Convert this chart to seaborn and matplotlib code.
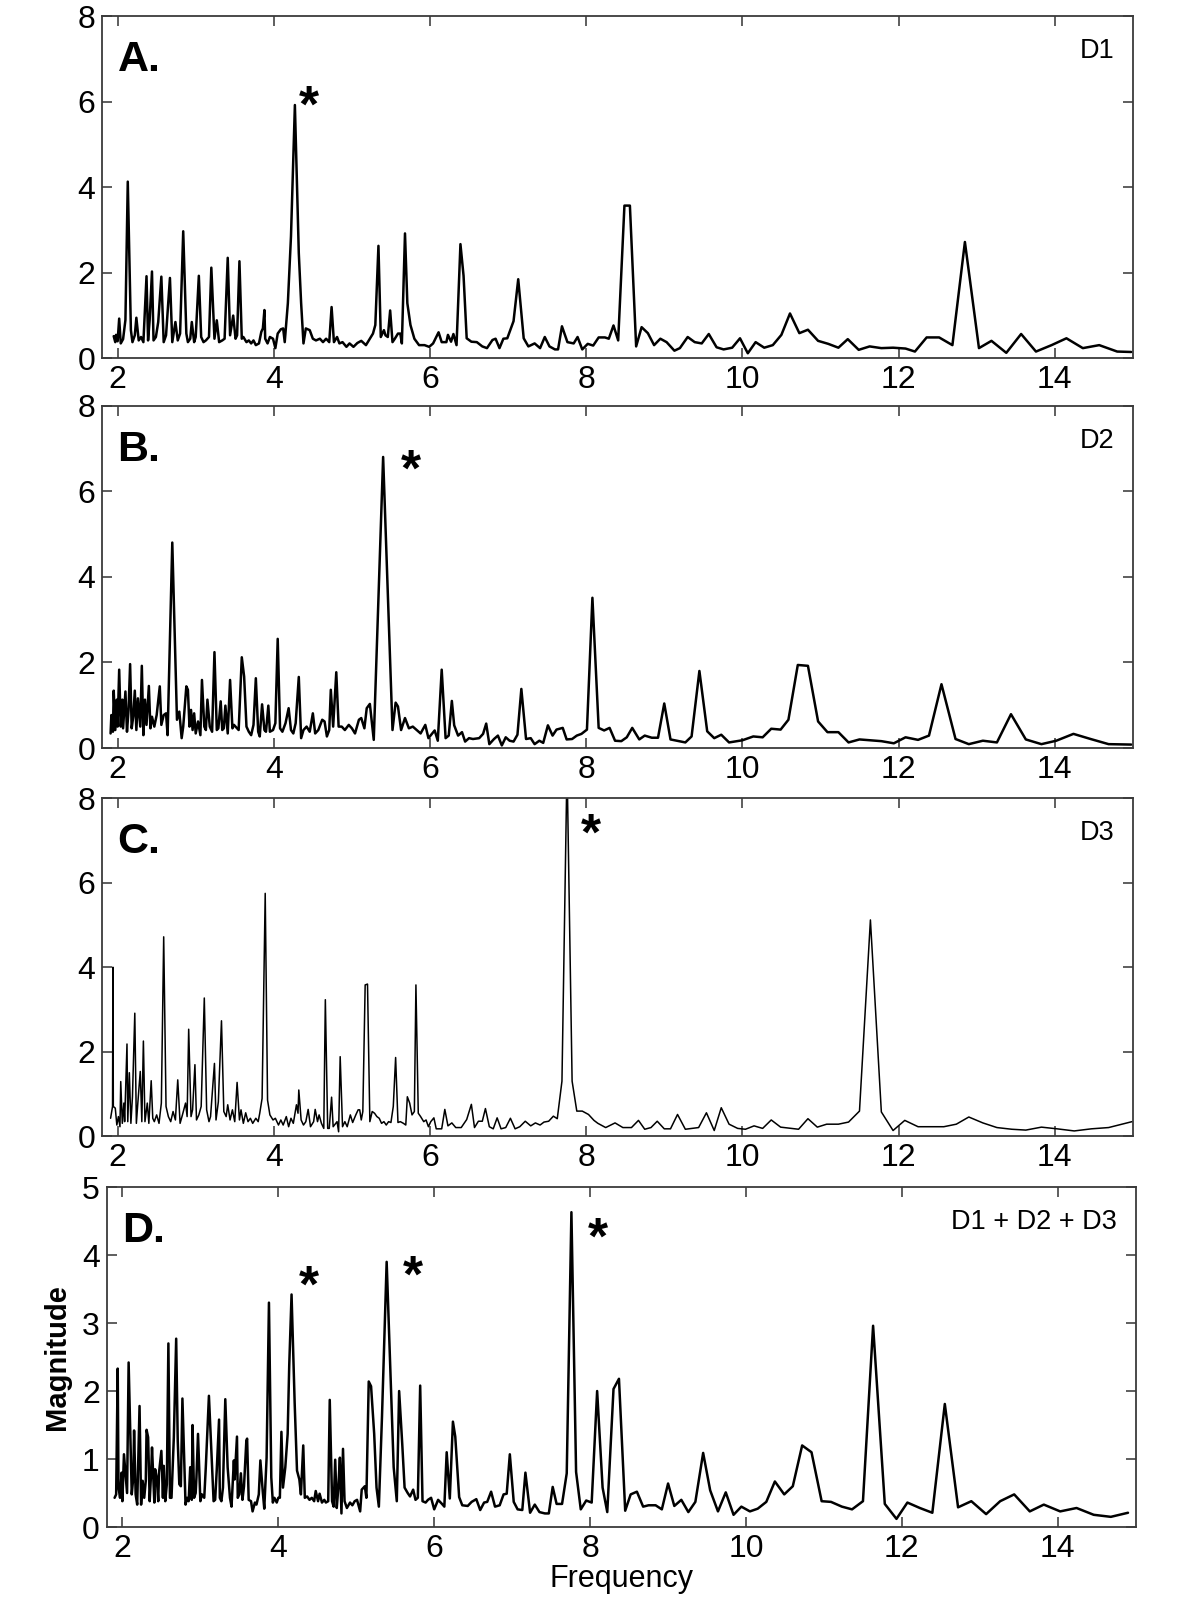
import matplotlib
matplotlib.use("Agg")
import matplotlib.pyplot as plt
import pandas as pd
import seaborn as sns

# ---------------------------------------------------------
# 스펙트럼 값 (그림에서 읽은 값: frequency, magnitude)
# ---------------------------------------------------------
d1_points = [
    (1.95, 0.52), (1.97, 0.38), (1.98, 0.55), (2.00, 0.40), (2.02, 0.93), (2.04, 0.35), (2.07, 0.45),
    (2.10, 0.90), (2.13, 4.13), (2.17, 0.66), (2.19, 0.38), (2.22, 0.54), (2.24, 0.95), (2.27, 0.42),
    (2.30, 0.50), (2.33, 0.38), (2.37, 1.92), (2.39, 0.42), (2.41, 0.89), (2.44, 2.03), (2.46, 0.42),
    (2.49, 0.50), (2.52, 0.85), (2.56, 1.91), (2.59, 0.38), (2.62, 0.54), (2.67, 1.88), (2.70, 0.38),
    (2.72, 0.62), (2.74, 0.85), (2.77, 0.42), (2.80, 0.58), (2.84, 2.97), (2.88, 0.58), (2.90, 0.38),
    (2.93, 0.46), (2.95, 0.85), (2.98, 0.38), (3.00, 0.50), (3.04, 1.93), (3.07, 0.50), (3.10, 0.38),
    (3.13, 0.42), (3.17, 0.50), (3.20, 2.12), (3.24, 0.46), (3.27, 0.89), (3.30, 0.38), (3.34, 0.42),
    (3.37, 0.46), (3.41, 2.35), (3.44, 0.54), (3.48, 1.00), (3.51, 0.46), (3.53, 0.54), (3.56, 2.27),
    (3.59, 0.46), (3.61, 0.50), (3.65, 0.38), (3.68, 0.42), (3.71, 0.35), (3.74, 0.42), (3.77, 0.31),
    (3.81, 0.35), (3.84, 0.62), (3.86, 0.70), (3.88, 1.13), (3.89, 0.46), (3.92, 0.35), (3.95, 0.50),
    (3.99, 0.46), (4.02, 0.24), (4.05, 0.58), (4.09, 0.68), (4.12, 0.70), (4.14, 0.38), (4.18, 1.29),
    (4.22, 2.85), (4.27, 5.92), (4.32, 2.46), (4.35, 1.29), (4.38, 0.35), (4.41, 0.70), (4.46, 0.66),
    (4.50, 0.46), (4.54, 0.42), (4.59, 0.46), (4.63, 0.38), (4.67, 0.46), (4.71, 0.38), (4.74, 1.20),
    (4.77, 0.38), (4.81, 0.50), (4.84, 0.35), (4.88, 0.38), (4.93, 0.27), (4.97, 0.35), (5.02, 0.27),
    (5.07, 0.36), (5.12, 0.41), (5.18, 0.31), (5.23, 0.46), (5.27, 0.58), (5.30, 0.78), (5.34, 2.63),
    (5.37, 0.50), (5.41, 0.66), (5.43, 0.54), (5.46, 0.50), (5.49, 1.12), (5.52, 0.38), (5.55, 0.46),
    (5.59, 0.58), (5.62, 0.58), (5.64, 0.35), (5.68, 2.92), (5.71, 1.29), (5.75, 0.78), (5.80, 0.46),
    (5.86, 0.31), (5.93, 0.31), (5.99, 0.27), (6.04, 0.35), (6.11, 0.61), (6.15, 0.38), (6.21, 0.38),
    (6.23, 0.55), (6.27, 0.39), (6.30, 0.57), (6.34, 0.31), (6.39, 2.67), (6.43, 1.93), (6.47, 0.47),
    (6.53, 0.39), (6.60, 0.38), (6.67, 0.28), (6.73, 0.24), (6.80, 0.43), (6.84, 0.46), (6.89, 0.24),
    (6.94, 0.46), (6.99, 0.47), (7.07, 0.87), (7.13, 1.85), (7.20, 0.47), (7.26, 0.28), (7.34, 0.35),
    (7.41, 0.24), (7.47, 0.50), (7.53, 0.28), (7.60, 0.21), (7.64, 0.21), (7.69, 0.75), (7.76, 0.38),
    (7.84, 0.35), (7.89, 0.50), (7.95, 0.21), (8.02, 0.34), (8.09, 0.30), (8.16, 0.49), (8.24, 0.49),
    (8.29, 0.46), (8.35, 0.77), (8.41, 0.42), (8.49, 3.57), (8.56, 3.57), (8.64, 0.28), (8.71, 0.73),
    (8.79, 0.59), (8.87, 0.31), (8.95, 0.46), (9.03, 0.38), (9.13, 0.18), (9.20, 0.24), (9.30, 0.50),
    (9.39, 0.38), (9.48, 0.35), (9.57, 0.57), (9.67, 0.26), (9.76, 0.21), (9.87, 0.25), (9.97, 0.47),
    (10.07, 0.12), (10.17, 0.38), (10.28, 0.25), (10.39, 0.31), (10.50, 0.55), (10.61, 1.05),
    (10.73, 0.59), (10.84, 0.67), (10.97, 0.41), (11.10, 0.34), (11.23, 0.25), (11.35, 0.45),
    (11.49, 0.20), (11.63, 0.28), (11.78, 0.24), (11.93, 0.25), (12.09, 0.23), (12.21, 0.16),
    (12.36, 0.49), (12.52, 0.49), (12.69, 0.31), (12.85, 2.72), (13.03, 0.24), (13.19, 0.41),
    (13.38, 0.13), (13.57, 0.57), (13.76, 0.16), (13.96, 0.31), (14.15, 0.47), (14.36, 0.24),
    (14.57, 0.31), (14.80, 0.16), (14.98, 0.15),
]

d2_points = [
    (1.91, 0.34), (1.92, 0.77), (1.94, 0.38), (1.95, 1.34), (1.97, 0.42), (1.99, 1.13), (2.00, 0.50),
    (2.02, 1.83), (2.04, 0.50), (2.06, 1.13), (2.07, 0.46), (2.10, 1.32), (2.12, 0.38), (2.14, 0.89),
    (2.16, 1.96), (2.18, 0.46), (2.20, 0.73), (2.22, 1.34), (2.24, 0.42), (2.26, 1.16), (2.29, 0.50),
    (2.31, 1.92), (2.33, 0.30), (2.35, 1.13), (2.37, 0.54), (2.40, 1.45), (2.42, 0.46), (2.44, 0.73),
    (2.47, 0.50), (2.50, 0.77), (2.53, 1.28), (2.54, 1.44), (2.56, 0.54), (2.59, 0.77), (2.62, 0.81),
    (2.64, 0.30), (2.70, 4.80), (2.76, 0.66), (2.79, 0.85), (2.82, 0.23), (2.84, 0.50), (2.88, 1.44),
    (2.90, 1.36), (2.92, 0.50), (2.94, 0.89), (2.96, 0.42), (2.98, 0.81), (3.00, 0.34), (3.03, 0.62),
    (3.06, 0.30), (3.08, 1.59), (3.11, 0.50), (3.13, 0.42), (3.15, 1.13), (3.18, 0.50), (3.21, 0.38),
    (3.24, 2.24), (3.27, 0.42), (3.29, 0.46), (3.32, 1.09), (3.34, 0.42), (3.36, 0.46), (3.38, 0.99),
    (3.41, 0.34), (3.44, 1.59), (3.47, 0.46), (3.49, 0.54), (3.53, 0.46), (3.55, 0.42), (3.59, 2.12),
    (3.62, 1.67), (3.65, 0.50), (3.68, 0.38), (3.71, 0.30), (3.74, 0.54), (3.77, 1.63), (3.80, 0.38),
    (3.82, 0.27), (3.85, 1.02), (3.88, 0.42), (3.90, 0.38), (3.93, 0.99), (3.95, 0.38), (3.99, 0.42),
    (4.02, 0.58), (4.05, 2.55), (4.08, 0.46), (4.11, 0.38), (4.15, 0.58), (4.19, 0.93), (4.22, 0.42),
    (4.25, 0.34), (4.28, 0.58), (4.32, 1.66), (4.35, 0.23), (4.38, 0.42), (4.42, 0.50), (4.46, 0.38),
    (4.50, 0.81), (4.53, 0.34), (4.57, 0.42), (4.62, 0.66), (4.65, 0.62), (4.68, 0.27), (4.71, 0.42),
    (4.73, 1.36), (4.76, 0.50), (4.80, 1.77), (4.83, 0.50), (4.87, 0.50), (4.91, 0.42), (4.96, 0.54),
    (5.00, 0.46), (5.04, 0.34), (5.09, 0.66), (5.12, 0.70), (5.16, 0.46), (5.19, 0.93), (5.23, 1.03),
    (5.28, 0.19), (5.40, 6.80), (5.52, 0.42), (5.56, 1.06), (5.59, 0.97), (5.63, 0.42), (5.68, 0.70),
    (5.73, 0.46), (5.78, 0.50), (5.83, 0.42), (5.88, 0.34), (5.94, 0.54), (5.98, 0.23), (6.06, 0.41),
    (6.10, 0.17), (6.15, 1.83), (6.20, 0.23), (6.24, 0.29), (6.28, 1.10), (6.31, 0.53), (6.36, 0.29),
    (6.41, 0.37), (6.45, 0.15), (6.50, 0.23), (6.55, 0.21), (6.63, 0.23), (6.68, 0.33), (6.72, 0.57),
    (6.76, 0.09), (6.82, 0.21), (6.87, 0.29), (6.92, 0.06), (6.97, 0.25), (7.02, 0.17), (7.07, 0.15),
    (7.12, 0.31), (7.17, 1.38), (7.23, 0.21), (7.29, 0.23), (7.34, 0.09), (7.40, 0.17), (7.45, 0.12),
    (7.51, 0.53), (7.57, 0.29), (7.62, 0.43), (7.70, 0.47), (7.75, 0.20), (7.82, 0.21), (7.88, 0.29),
    (7.94, 0.33), (8.01, 0.43), (8.08, 3.51), (8.16, 0.47), (8.23, 0.41), (8.30, 0.47), (8.37, 0.17),
    (8.45, 0.16), (8.52, 0.25), (8.59, 0.47), (8.68, 0.20), (8.75, 0.29), (8.84, 0.24), (8.92, 0.24),
    (9.00, 1.04), (9.08, 0.20), (9.27, 0.13), (9.35, 0.27), (9.45, 1.80), (9.55, 0.39), (9.64, 0.23),
    (9.73, 0.31), (9.83, 0.13), (10.00, 0.18), (10.14, 0.27), (10.26, 0.25), (10.37, 0.45),
    (10.49, 0.43), (10.59, 0.66), (10.71, 1.94), (10.84, 1.92), (10.97, 0.62), (11.09, 0.37),
    (11.23, 0.37), (11.36, 0.13), (11.50, 0.20), (11.78, 0.16), (11.94, 0.11), (12.09, 0.25),
    (12.25, 0.19), (12.39, 0.29), (12.55, 1.49), (12.73, 0.21), (12.90, 0.09), (13.08, 0.17),
    (13.26, 0.13), (13.44, 0.79), (13.63, 0.20), (13.83, 0.09), (14.02, 0.17), (14.24, 0.33),
    (14.46, 0.21), (14.69, 0.09), (14.98, 0.08),
]

d3_points = [
    (1.91, 0.42), (1.935, 0.70), (1.94, 4.00), (1.945, 0.70), (1.97, 0.66), (1.99, 0.26), (2.01, 0.46),
    (2.03, 0.22), (2.04, 1.29), (2.06, 0.30), (2.08, 0.78), (2.09, 0.34), (2.12, 2.18), (2.13, 0.34),
    (2.15, 1.50), (2.17, 0.30), (2.19, 0.93), (2.22, 2.91), (2.24, 0.30), (2.26, 0.81), (2.29, 1.53),
    (2.31, 0.34), (2.33, 2.25), (2.35, 0.34), (2.38, 0.78), (2.40, 0.30), (2.43, 1.31), (2.45, 0.42),
    (2.47, 0.34), (2.50, 0.50), (2.53, 0.30), (2.56, 0.78), (2.59, 4.72), (2.62, 0.70), (2.65, 0.46),
    (2.68, 0.34), (2.71, 0.58), (2.74, 0.38), (2.77, 1.33), (2.80, 0.30), (2.83, 0.50), (2.87, 0.78),
    (2.89, 0.46), (2.91, 2.53), (2.94, 0.46), (2.96, 0.62), (2.99, 1.69), (3.01, 0.38), (3.04, 0.50),
    (3.07, 0.70), (3.11, 3.27), (3.14, 0.62), (3.17, 0.34), (3.19, 0.46), (3.24, 1.72), (3.26, 0.38),
    (3.29, 0.81), (3.33, 2.73), (3.36, 0.58), (3.39, 0.46), (3.41, 0.74), (3.44, 0.38), (3.47, 0.62),
    (3.50, 0.34), (3.53, 1.27), (3.56, 0.38), (3.58, 0.62), (3.61, 0.30), (3.64, 0.55), (3.67, 0.34),
    (3.70, 0.42), (3.73, 0.30), (3.77, 0.42), (3.80, 0.34), (3.82, 0.54), (3.85, 0.89), (3.89, 5.75),
    (3.92, 0.85), (3.95, 0.50), (3.99, 0.38), (4.02, 0.42), (4.06, 0.26), (4.09, 0.38), (4.12, 0.26),
    (4.16, 0.46), (4.19, 0.22), (4.22, 0.42), (4.25, 0.30), (4.29, 0.74), (4.31, 0.54), (4.32, 1.09),
    (4.35, 0.38), (4.38, 0.26), (4.41, 0.34), (4.44, 0.63), (4.47, 0.22), (4.51, 0.34), (4.53, 0.63),
    (4.56, 0.34), (4.58, 0.50), (4.61, 0.30), (4.64, 0.18), (4.66, 3.23), (4.69, 0.18), (4.71, 0.18),
    (4.74, 0.92), (4.76, 0.22), (4.81, 0.34), (4.83, 0.10), (4.85, 1.88), (4.88, 0.22), (4.91, 0.34),
    (4.94, 0.22), (4.98, 0.50), (5.01, 0.32), (5.05, 0.50), (5.08, 0.62), (5.10, 0.62), (5.12, 0.38),
    (5.14, 0.58), (5.17, 3.58), (5.20, 3.60), (5.23, 0.34), (5.26, 0.58), (5.29, 0.54), (5.32, 0.46),
    (5.35, 0.42), (5.38, 0.30), (5.41, 0.34), (5.44, 0.26), (5.47, 0.34), (5.50, 0.32), (5.53, 0.70),
    (5.56, 1.86), (5.59, 0.32), (5.62, 0.34), (5.66, 0.30), (5.69, 0.26), (5.71, 0.93), (5.74, 0.78),
    (5.77, 0.50), (5.80, 0.58), (5.82, 3.58), (5.85, 0.54), (5.88, 0.46), (5.92, 0.34), (5.95, 0.38),
    (5.98, 0.22), (6.01, 0.34), (6.05, 0.43), (6.08, 0.17), (6.15, 0.17), (6.19, 0.63), (6.23, 0.24),
    (6.28, 0.31), (6.33, 0.20), (6.40, 0.20), (6.47, 0.39), (6.53, 0.75), (6.57, 0.20), (6.62, 0.35),
    (6.67, 0.35), (6.71, 0.65), (6.76, 0.22), (6.81, 0.17), (6.86, 0.43), (6.91, 0.17), (6.97, 0.20),
    (7.03, 0.42), (7.09, 0.17), (7.15, 0.22), (7.22, 0.35), (7.29, 0.24), (7.35, 0.31), (7.41, 0.26),
    (7.46, 0.33), (7.52, 0.35), (7.58, 0.47), (7.63, 0.41), (7.69, 1.30), (7.755, 8.80), (7.82, 1.30),
    (7.88, 0.59), (7.95, 0.59), (8.03, 0.51), (8.10, 0.37), (8.15, 0.30), (8.25, 0.20), (8.37, 0.31),
    (8.47, 0.20), (8.58, 0.20), (8.67, 0.37), (8.75, 0.16), (8.83, 0.20), (8.91, 0.35), (9.00, 0.17),
    (9.08, 0.17), (9.17, 0.51), (9.27, 0.16), (9.44, 0.20), (9.54, 0.55), (9.64, 0.13), (9.73, 0.67),
    (9.83, 0.28), (9.94, 0.18), (10.04, 0.16), (10.15, 0.24), (10.26, 0.18), (10.37, 0.38),
    (10.49, 0.21), (10.72, 0.16), (10.84, 0.41), (10.96, 0.21), (11.08, 0.28), (11.23, 0.28),
    (11.36, 0.33), (11.50, 0.59), (11.64, 5.12), (11.78, 0.57), (11.93, 0.13), (12.08, 0.37),
    (12.25, 0.22), (12.58, 0.22), (12.74, 0.28), (12.90, 0.45), (13.08, 0.31), (13.26, 0.20),
    (13.45, 0.16), (13.63, 0.14), (13.83, 0.21), (14.03, 0.17), (14.25, 0.12), (14.47, 0.17),
    (14.69, 0.20), (14.99, 0.34),
]

dsum_points = [
    (1.90, 0.43), (1.92, 0.48), (1.94, 2.33), (1.95, 0.58), (1.97, 0.43), (1.99, 0.80), (2.00, 0.38),
    (2.02, 1.07), (2.04, 0.78), (2.06, 0.50), (2.08, 2.42), (2.10, 1.42), (2.12, 0.48), (2.14, 0.73),
    (2.15, 1.42), (2.17, 0.48), (2.19, 0.33), (2.22, 1.78), (2.24, 0.33), (2.26, 0.68), (2.28, 0.43),
    (2.30, 0.68), (2.31, 1.43), (2.33, 1.32), (2.35, 0.38), (2.37, 0.83), (2.38, 1.17), (2.41, 0.36),
    (2.42, 0.85), (2.44, 0.73), (2.46, 0.38), (2.47, 0.80), (2.50, 1.12), (2.52, 0.43), (2.53, 0.90),
    (2.55, 0.38), (2.57, 0.63), (2.59, 2.70), (2.61, 0.43), (2.63, 0.43), (2.66, 1.32), (2.69, 2.77),
    (2.71, 1.27), (2.73, 0.63), (2.75, 0.60), (2.77, 1.89), (2.79, 1.12), (2.81, 0.33), (2.83, 0.43),
    (2.85, 0.38), (2.87, 0.88), (2.89, 0.40), (2.90, 1.50), (2.92, 0.43), (2.94, 0.50), (2.95, 0.73),
    (2.97, 1.37), (3.00, 0.38), (3.02, 0.48), (3.05, 0.43), (3.07, 0.88), (3.11, 1.93), (3.14, 1.17),
    (3.17, 0.38), (3.19, 0.40), (3.21, 0.83), (3.24, 1.58), (3.25, 0.43), (3.27, 0.38), (3.29, 0.58),
    (3.32, 1.88), (3.35, 0.88), (3.38, 0.43), (3.40, 0.30), (3.43, 0.98), (3.44, 0.70), (3.47, 1.33),
    (3.48, 0.43), (3.50, 0.48), (3.52, 0.79), (3.54, 0.40), (3.56, 0.60), (3.59, 1.27), (3.60, 1.30),
    (3.62, 0.40), (3.65, 0.38), (3.67, 0.23), (3.70, 0.36), (3.72, 0.33), (3.75, 0.48), (3.77, 0.98),
    (3.80, 0.53), (3.82, 0.27), (3.85, 1.02), (3.88, 3.30), (3.91, 0.73), (3.93, 0.36), (3.95, 0.43),
    (3.98, 0.36), (4.00, 0.43), (4.02, 0.43), (4.04, 1.40), (4.06, 0.58), (4.09, 0.88), (4.12, 1.37),
    (4.14, 2.37), (4.17, 3.42), (4.21, 1.82), (4.24, 0.83), (4.27, 0.70), (4.29, 0.48), (4.32, 1.20),
    (4.34, 0.43), (4.37, 0.45), (4.40, 0.40), (4.43, 0.43), (4.46, 0.38), (4.48, 0.53), (4.51, 0.38),
    (4.53, 0.49), (4.56, 0.36), (4.59, 0.40), (4.61, 0.36), (4.64, 0.38), (4.66, 1.87), (4.69, 0.38),
    (4.71, 0.30), (4.73, 0.99), (4.75, 0.28), (4.77, 0.58), (4.79, 1.02), (4.81, 0.20), (4.83, 1.15),
    (4.85, 0.38), (4.88, 0.28), (4.92, 0.36), (4.95, 0.32), (4.98, 0.38), (5.01, 0.40), (5.05, 0.23),
    (5.07, 0.55), (5.11, 0.60), (5.13, 0.43), (5.16, 2.14), (5.19, 2.07), (5.23, 1.37), (5.26, 0.58),
    (5.29, 0.30), (5.33, 1.62), (5.39, 3.90), (5.45, 1.87), (5.48, 0.88), (5.52, 0.38), (5.55, 2.00),
    (5.59, 1.22), (5.62, 0.58), (5.66, 0.50), (5.69, 0.45), (5.73, 0.55), (5.76, 0.40), (5.79, 0.43),
    (5.82, 2.08), (5.85, 0.38), (5.89, 0.36), (5.92, 0.40), (5.96, 0.43), (6.00, 0.26), (6.05, 0.40),
    (6.10, 0.34), (6.13, 0.30), (6.16, 1.10), (6.20, 0.42), (6.24, 1.55), (6.27, 1.33), (6.32, 0.44),
    (6.36, 0.32), (6.43, 0.31), (6.48, 0.37), (6.54, 0.41), (6.59, 0.25), (6.64, 0.36), (6.68, 0.37),
    (6.73, 0.52), (6.78, 0.30), (6.84, 0.32), (6.89, 0.48), (6.93, 0.49), (6.97, 1.07), (7.02, 0.37),
    (7.07, 0.26), (7.13, 0.25), (7.17, 0.80), (7.23, 0.21), (7.29, 0.33), (7.35, 0.22), (7.42, 0.20),
    (7.47, 0.20), (7.52, 0.59), (7.57, 0.34), (7.64, 0.34), (7.70, 0.79), (7.76, 4.63), (7.82, 0.81),
    (7.88, 0.26), (7.95, 0.39), (8.02, 0.36), (8.09, 2.00), (8.16, 0.58), (8.22, 0.22), (8.30, 2.03),
    (8.37, 2.18), (8.45, 0.24), (8.52, 0.48), (8.60, 0.52), (8.68, 0.30), (8.75, 0.32), (8.84, 0.32),
    (8.92, 0.26), (9.00, 0.64), (9.08, 0.31), (9.17, 0.40), (9.26, 0.22), (9.35, 0.37), (9.45, 1.09),
    (9.54, 0.54), (9.64, 0.23), (9.74, 0.51), (9.84, 0.18), (9.94, 0.30), (10.05, 0.23), (10.15, 0.27),
    (10.26, 0.37), (10.37, 0.67), (10.49, 0.48), (10.60, 0.60), (10.72, 1.20), (10.84, 1.10),
    (10.97, 0.38), (11.09, 0.37), (11.23, 0.30), (11.36, 0.26), (11.50, 0.38), (11.63, 2.96),
    (11.78, 0.34), (11.93, 0.12), (12.07, 0.36), (12.23, 0.28), (12.39, 0.21), (12.55, 1.81),
    (12.72, 0.29), (12.89, 0.38), (13.08, 0.19), (13.26, 0.38), (13.44, 0.48), (13.64, 0.23),
    (13.82, 0.33), (14.03, 0.23), (14.24, 0.28), (14.46, 0.18), (14.68, 0.15), (14.90, 0.21),
]

panel_letters = ["A.", "B.", "C.", "D."]
panel_tags = ["D1", "D2", "D3", "D1 + D2 + D3"]
star_a = [(4.45, 6.18)]
star_b = [(5.76, 6.77)]
star_c = [(8.06, 7.44)]
star_d = [(4.39, 3.72), (5.73, 3.87), (8.10, 4.43)]
x_ticks = [2, 4, 6, 8, 10, 12, 14]
y_ticks_abc = [0, 2, 4, 6, 8]
y_ticks_d = [0, 1, 2, 3, 4, 5]

# ---------------------------------------------------------
# 그림 설정
# ---------------------------------------------------------
sns.set_theme(style="ticks")
plt.rcParams["font.family"] = ["Liberation Sans", "DejaVu Sans"]
plt.rcParams["text.color"] = "black"
plt.rcParams["axes.labelcolor"] = "black"
plt.rcParams["xtick.color"] = "black"
plt.rcParams["ytick.color"] = "black"

fig = plt.figure(figsize=(12, 16), dpi=100)

panels = [
    (d1_points, star_a, y_ticks_abc, [0.085, 0.776, 0.859, 0.214], 1.8),
    (d2_points, star_b, y_ticks_abc, [0.085, 0.5325, 0.859, 0.214], 1.8),
    (d3_points, star_c, y_ticks_abc, [0.085, 0.290, 0.859, 0.211], 1.1),
    (dsum_points, star_d, y_ticks_d, [0.089, 0.0456, 0.8575, 0.2125], 1.8),
]

for i, (pts, stars, yt, rect, lw) in enumerate(panels):
    ax = fig.add_axes(rect)
    df = pd.DataFrame(pts, columns=["freq", "mag"])
    sns.lineplot(data=df, x="freq", y="mag", ax=ax, color="black", linewidth=lw,
                 estimator=None, sort=False)
    ax.set_xlim(1.8, 15.0)
    ax.set_ylim(yt[0], yt[-1])
    ax.set_xticks(x_ticks)
    ax.set_yticks(yt)
    ax.tick_params(direction="in", top=True, right=True, length=7, width=1.1,
                   labelsize=23, pad=5, color="#333333", labelcolor="black")
    for sp in ax.spines.values():
        sp.set_color("#3a3a3a")
        sp.set_linewidth(1.3)
    ax.set_xlabel("")
    ax.set_ylabel("")

    ax.text(0.015, 0.93, panel_letters[i], transform=ax.transAxes, fontsize=31,
            fontweight="bold", ha="left", va="top", color="black")
    ax.text(0.982, 0.935, panel_tags[i], transform=ax.transAxes, fontsize=19.5,
            ha="right", va="top", color="black")
    for sx, sy in stars:
        ax.annotate("*", xy=(sx, sy), xytext=(0, -20), textcoords="offset points",
                    ha="center", va="baseline", fontsize=37, fontweight="bold", color="black")

    if i == 3:
        ax.set_xlabel("Frequency", fontsize=22, labelpad=0, color="black")
        ax.set_ylabel("Magnitude", fontsize=21, fontweight="bold", labelpad=8, color="black")

fig.savefig("out.png", dpi=100)
plt.close(fig)
